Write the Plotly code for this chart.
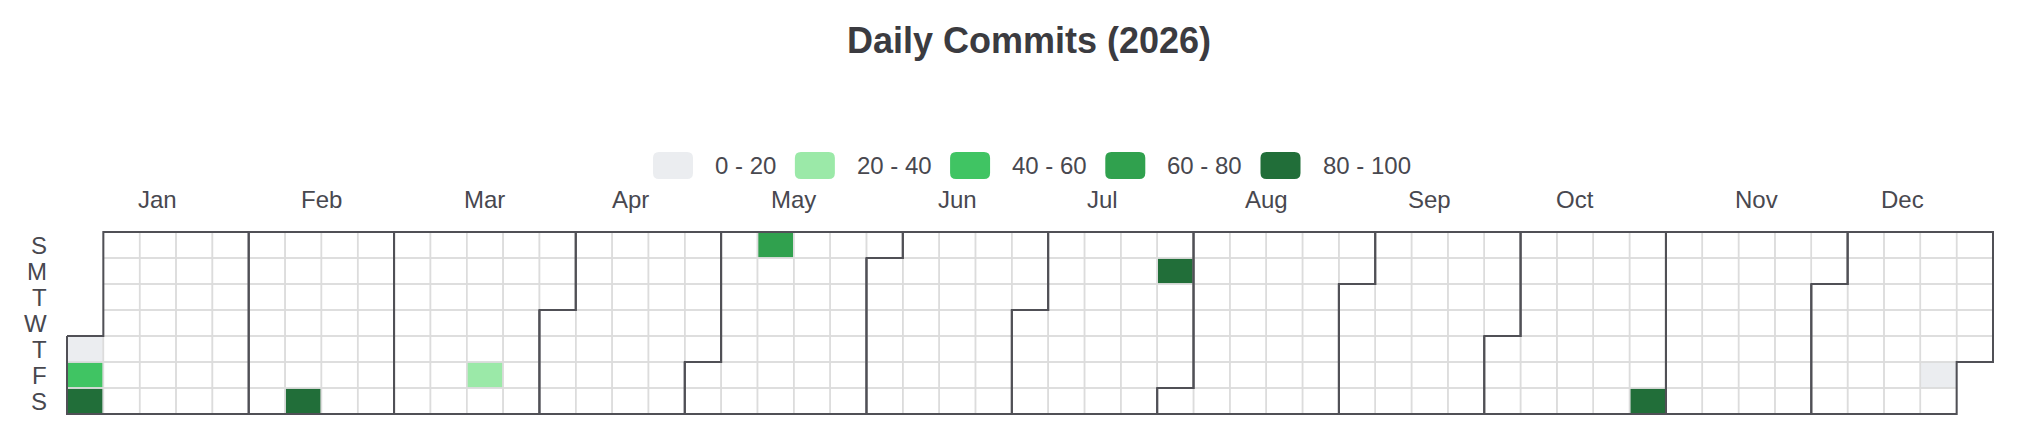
import datetime as dt
import plotly.graph_objects as go

# ---------------- data ----------------
YEAR = 2026
commit_dates = ["2026-01-01", "2026-01-02", "2026-01-03", "2026-02-14", "2026-03-20",
                "2026-05-10", "2026-07-27", "2026-10-31", "2026-12-25"]
commit_counts = [8, 52, 91, 94, 31, 72, 88, 96, 6]

day_labels = ["S", "M", "T", "W", "T", "F", "S"]
month_labels = ["Jan", "Feb", "Mar", "Apr", "May", "Jun",
                "Jul", "Aug", "Sep", "Oct", "Nov", "Dec"]
bin_labels = ["0 - 20", "20 - 40", "40 - 60", "60 - 80", "80 - 100"]
bin_colors = ["#ebedf0", "#9be9a8", "#40c463", "#30a14e", "#216e39"]
bin_edges = [0, 20, 40, 60, 80, 100]
title_text = "Daily Commits (2026)"

# ---------------- layout geometry (page pixels, minus the page body offset) ----------------
W, H = 2018, 439
OFF = 8  # default body margin of the html page
GRID_L, GRID_R, GRID_T, GRID_B = 67 - OFF, 1993 - OFF, 232 - OFF, 414 - OFF
MONTH_Y = 199 - OFF
DAY_RIGHT = 48 - OFF
LEG_X0 = 653 - OFF
LEG_TOP, LEG_BOT = 152 - OFF, 179 - OFF
TITLE_X, TITLE_Y = 1029 - OFF, 40 - OFF
PAD = 3
FONT = "Liberation Sans, Arial, Helvetica, sans-serif"
TEXT_COLOR = "#48484f"
TITLE_COLOR = "#3b3b40"

jan1 = dt.date(YEAR, 1, 1)
first_idx = (jan1.weekday() + 1) % 7  # Sunday-first weekday index


def cell(d):
    off = (d - jan1).days + first_idx
    return off // 7, off % 7


n_days = (dt.date(YEAR + 1, 1, 1) - jan1).days
n_cols = cell(dt.date(YEAR, 12, 31))[0] + 1

cw = (GRID_R - GRID_L) / n_cols
ch = (GRID_B - GRID_T) / 7
plot_w = (GRID_R - GRID_L) + 2 * PAD
plot_h = (GRID_B - GRID_T) + 2 * PAD
plot_left_px = GRID_L - PAD
plot_top_px = GRID_T - PAD
plot_bottom_px = GRID_B + PAD

# heatmap matrix
z = [[None] * n_cols for _ in range(7)]
text = [[""] * n_cols for _ in range(7)]
for ds, v in zip(commit_dates, commit_counts):
    c, r = cell(dt.date.fromisoformat(ds))
    z[r][c] = v
    text[r][c] = ds

span = bin_edges[-1] - bin_edges[0]
colorscale = []
for i, col in enumerate(bin_colors):
    lo = (bin_edges[i] - bin_edges[0]) / span
    hi = (bin_edges[i + 1] - bin_edges[0]) / span
    colorscale += [[lo, col], [hi, col]]

fig = go.Figure()
fig.add_trace(go.Heatmap(
    z=z, x=list(range(n_cols)), y=list(range(7)),
    zmin=bin_edges[0], zmax=bin_edges[-1], colorscale=colorscale,
    showscale=False, hoverongaps=False, text=text,
    hovertemplate="%{text}: %{z}<extra></extra>",
))

# thin cell borders for every day of the year
gx, gy = [], []
for i in range(n_days):
    c, r = cell(jan1 + dt.timedelta(days=i))
    x0, x1, y0, y1 = c - 0.5, c + 0.5, r - 0.5, r + 0.5
    gx += [x0, x1, x1, x0, x0, None]
    gy += [y0, y0, y1, y1, y0, None]
fig.add_trace(go.Scatter(x=gx, y=gy, mode="lines", hoverinfo="skip",
                         line=dict(color="#dcdcdc", width=1.5), showlegend=False))

# month outlines
mx, my = [], []
for m in range(1, 13):
    first = dt.date(YEAR, m, 1)
    last = (dt.date(YEAR + (m == 12), m % 12 + 1, 1) - dt.timedelta(days=1))
    c0, r0 = cell(first)
    c1, r1 = cell(last)
    pts = [(c0 - 0.5, r0 - 0.5), (c0 + 0.5, r0 - 0.5), (c0 + 0.5, -0.5),
           (c1 + 0.5, -0.5), (c1 + 0.5, r1 + 0.5), (c1 - 0.5, r1 + 0.5),
           (c1 - 0.5, 6.5), (c0 - 0.5, 6.5), (c0 - 0.5, r0 - 0.5)]
    mx += [p[0] for p in pts] + [None]
    my += [p[1] for p in pts] + [None]
fig.add_trace(go.Scatter(x=mx, y=my, mode="lines", hoverinfo="skip",
                         line=dict(color="#505056", width=2), showlegend=False))

annotations = []
# month labels
for m in range(1, 13):
    first = dt.date(YEAR, m, 1)
    last = (dt.date(YEAR + (m == 12), m % 12 + 1, 1) - dt.timedelta(days=1))
    c0 = cell(first)[0]
    c1 = cell(last)[0]
    annotations.append(dict(
        x=(c0 + c1) / 2, xref="x", y=1, yref="paper", yanchor="middle",
        yshift=plot_top_px - MONTH_Y, text=month_labels[m - 1], showarrow=False,
        font=dict(family=FONT, size=24, color=TEXT_COLOR)))

# day labels
for r, lab in enumerate(day_labels):
    annotations.append(dict(
        x=0, xref="paper", xanchor="right", xshift=DAY_RIGHT - plot_left_px + 1,
        y=r, yref="y", yanchor="middle", text=lab, showarrow=False,
        font=dict(family=FONT, size=24, color=TEXT_COLOR)))


# legend (swatches + labels)
def px2x(px):
    return (px - plot_left_px) / plot_w


def py2y(py):
    return (plot_bottom_px - py) / plot_h


char_w = {"0": 0.556, "1": 0.556, "2": 0.556, "3": 0.556, "4": 0.556, "5": 0.556,
          "6": 0.556, "7": 0.556, "8": 0.556, "9": 0.556, " ": 0.278, "-": 0.333}
LEG_FS = 24
SW_W, SW_R = 40, 6
leg_x = LEG_X0
leg_mid = (LEG_TOP + LEG_BOT) / 2
shapes = []
for lab, col in zip(bin_labels, bin_colors):
    x0, x1 = leg_x, leg_x + SW_W
    X0, X1 = px2x(x0), px2x(x1)
    Yt, Yb = py2y(LEG_TOP), py2y(LEG_BOT)
    rx = SW_R / plot_w
    ry = SW_R / plot_h
    path = (f"M {X0 + rx},{Yt} L {X1 - rx},{Yt} Q {X1},{Yt} {X1},{Yt - ry} "
            f"L {X1},{Yb + ry} Q {X1},{Yb} {X1 - rx},{Yb} L {X0 + rx},{Yb} "
            f"Q {X0},{Yb} {X0},{Yb + ry} L {X0},{Yt - ry} Q {X0},{Yt} {X0 + rx},{Yt} Z")
    shapes.append(dict(type="path", xref="paper", yref="paper", path=path,
                       fillcolor=col, line=dict(width=0), layer="above"))
    annotations.append(dict(
        x=px2x(x1 + 20), xref="paper", xanchor="left", y=py2y(leg_mid),
        yref="paper", yanchor="middle", text=lab, showarrow=False,
        font=dict(family=FONT, size=LEG_FS, color=TEXT_COLOR)))
    tw = sum(char_w.get(ch_, 0.556) for ch_ in lab) * LEG_FS
    leg_x = x1 + 20 + tw + 20.5

fig.update_layout(
    width=W, height=H, autosize=False,
    margin=dict(l=plot_left_px, r=W - GRID_R - PAD, t=plot_top_px, b=H - plot_bottom_px, pad=0),
    paper_bgcolor="white", plot_bgcolor="white",
    xaxis=dict(range=[-0.5 - PAD / cw, n_cols - 0.5 + PAD / cw], visible=False,
               fixedrange=True, showgrid=False, zeroline=False),
    yaxis=dict(range=[6.5 + PAD / ch, -0.5 - PAD / ch], visible=False,
               fixedrange=True, showgrid=False, zeroline=False),
    title=dict(text=title_text, x=TITLE_X / W, xref="container", xanchor="center",
               y=1 - TITLE_Y / H, yref="container", yanchor="middle",
               font=dict(family=FONT, size=36, color=TITLE_COLOR, weight="bold")),
    annotations=annotations, shapes=shapes, showlegend=False,
)

fig.write_html("out.html")
